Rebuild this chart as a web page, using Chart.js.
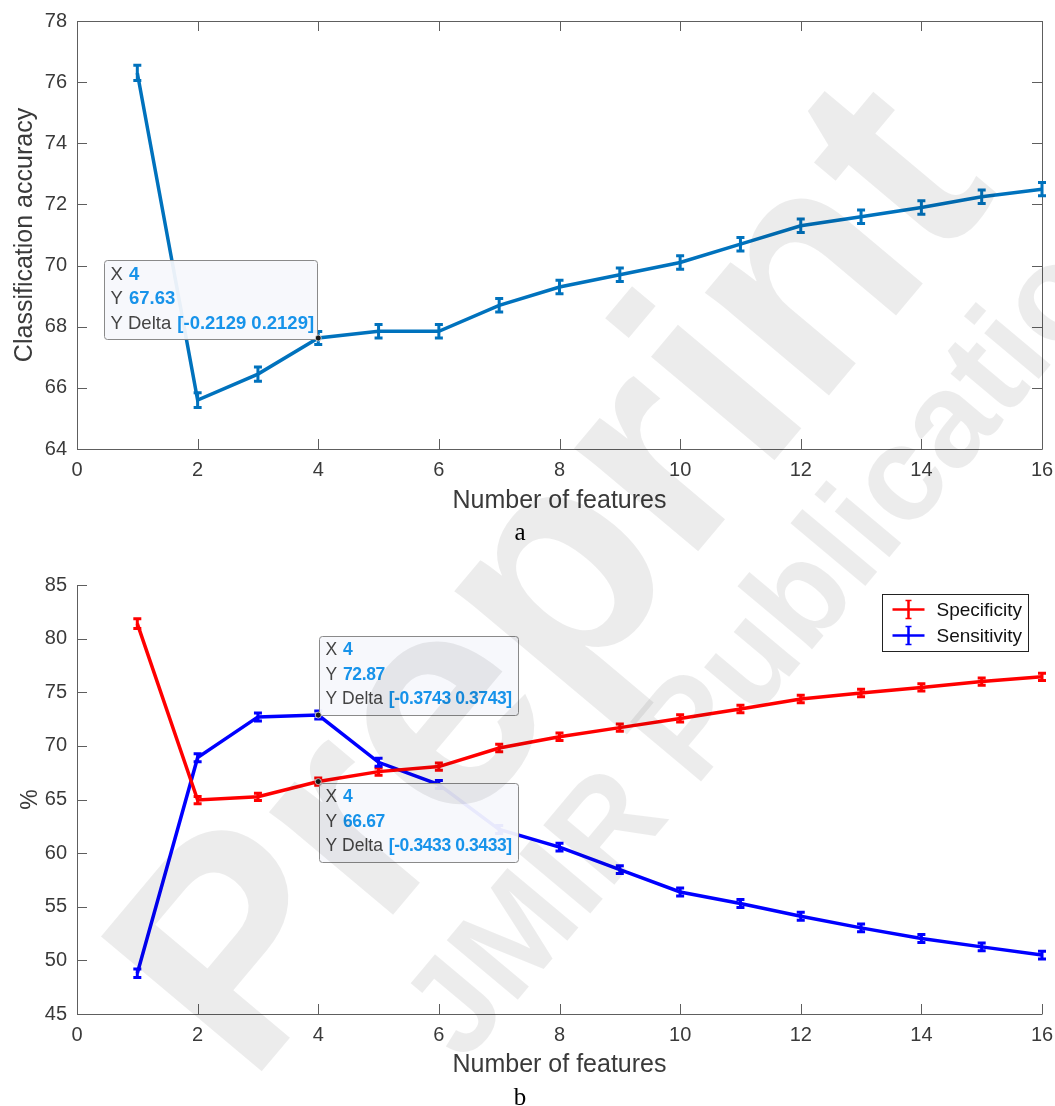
<!DOCTYPE html>
<html>
<head>
<meta charset="utf-8">
<script src="https://cdn.jsdelivr.net/npm/chart.js@4.4.1/dist/chart.umd.min.js"></script>
<style>
  html, body { margin: 0; padding: 0; background: #fff; }
  #page { position: relative; width: 1055px; height: 1106px; overflow: hidden; }
  canvas { position: absolute; left: 0; }
  #graficoA { top: 0; }
  #graficoB { top: 545px; }
  #marca { top: 0; pointer-events: none; }
  .sub { position: absolute; left: 0; width: 1040px; text-align: center;
         font-family: 'Liberation Serif', 'Times New Roman', serif; font-size: 25px; line-height: 25px; color: #000; }
</style>
</head>
<body>
<div id="page">
  <canvas id="graficoA" width="1055" height="525"></canvas>
  <div class="sub" style="top:519px">a</div>
  <canvas id="graficoB" width="1055" height="540"></canvas>
  <div class="sub" style="top:1084px">b</div>
  <canvas id="marca" width="1055" height="1106"></canvas>
</div>
<script>
// --- DATOS ---
const features = [1, 2, 3, 4, 5, 6, 7, 8, 9, 10, 11, 12, 13, 14, 15, 16];

const accuracy    = [76.3, 65.6, 66.45, 67.63, 67.85, 67.85, 68.7, 69.3, 69.7, 70.1, 70.7, 71.3, 71.6, 71.9, 72.25, 72.5];
const accuracyErr = [0.25, 0.24, 0.23, 0.2129, 0.22, 0.22, 0.22, 0.22, 0.22, 0.22, 0.22, 0.22, 0.22, 0.22, 0.22, 0.22];

const specificity    = [81.4, 64.95, 65.25, 66.67, 67.6, 68.07, 69.8, 70.85, 71.7, 72.56, 73.44, 74.37, 74.93, 75.45, 76.0, 76.44];
const specificityErr = [0.45, 0.34, 0.34, 0.3433, 0.34, 0.34, 0.34, 0.34, 0.34, 0.34, 0.34, 0.34, 0.34, 0.34, 0.34, 0.34];
const sensitivity    = [48.8, 68.9, 72.7, 72.87, 68.47, 66.4, 62.2, 60.56, 58.46, 56.38, 55.3, 54.12, 53.03, 52.04, 51.26, 50.49];
const sensitivityErr = [0.4, 0.37, 0.37, 0.3743, 0.37, 0.37, 0.37, 0.37, 0.37, 0.37, 0.37, 0.37, 0.37, 0.37, 0.37, 0.37];

const xTicks = { min: 0, max: 16, step: 2 };
const yTicksA = { min: 64, max: 78, step: 2 };
const yTicksB = { min: 45, max: 85, step: 5 };

const FONT = "'Liberation Sans', Arial, sans-serif";
const AXIS_COLOR = '#5e5e5e';
const LABEL_COLOR = '#3a3a3a';

Chart.defaults.font.family = FONT;
Chart.defaults.color = LABEL_COLOR;

function puntos(ys) {
    return features.map((f, i) => ({ x: f, y: ys[i] }));
}

// --- PLUGIN: ejes estilo MATLAB (marcas hacia dentro) ---
const ejesPlugin = {
    id: 'ejesMatlab',
    beforeDatasetsDraw(chart) {
        const { ctx, chartArea: a, scales: { x, y } } = chart;
        const caja = chart.config.options.caja;
        ctx.save();
        ctx.strokeStyle = AXIS_COLOR;
        ctx.lineWidth = 1;
        ctx.beginPath();
        x.ticks.forEach(t => {
            const px = Math.round(x.getPixelForValue(t.value)) + 0.5;
            ctx.moveTo(px, a.bottom); ctx.lineTo(px, a.bottom - 10);
            if (caja) { ctx.moveTo(px, a.top); ctx.lineTo(px, a.top + 10); }
        });
        y.ticks.forEach(t => {
            const py = Math.round(y.getPixelForValue(t.value)) + 0.5;
            ctx.moveTo(a.left, py); ctx.lineTo(a.left + 10, py);
            if (caja) { ctx.moveTo(a.right, py); ctx.lineTo(a.right - 10, py); }
        });
        const l = Math.round(a.left) + 0.5, r = Math.round(a.right) + 0.5;
        const t = Math.round(a.top) + 0.5, b = Math.round(a.bottom) + 0.5;
        ctx.moveTo(l, t); ctx.lineTo(l, b); ctx.lineTo(r, b);
        if (caja) { ctx.lineTo(r, t); ctx.lineTo(l, t); }
        ctx.stroke();
        ctx.restore();
    }
};

// --- PLUGIN: barras de error ---
const erroresPlugin = {
    id: 'barrasError',
    afterDatasetsDraw(chart) {
        const { ctx, scales: { x, y } } = chart;
        chart.data.datasets.forEach(ds => {
            ctx.save();
            ctx.strokeStyle = ds.borderColor;
            ctx.lineWidth = 3;
            ds.data.forEach((p, j) => {
                const px = x.getPixelForValue(p.x);
                const y1 = y.getPixelForValue(p.y - ds.errores[j]);
                const y2 = y.getPixelForValue(p.y + ds.errores[j]);
                ctx.beginPath();
                ctx.moveTo(px, y1 + 1); ctx.lineTo(px, y2 - 1);
                ctx.moveTo(px - 4, y1); ctx.lineTo(px + 4, y1);
                ctx.moveTo(px - 4, y2); ctx.lineTo(px + 4, y2);
                ctx.stroke();
            });
            ctx.restore();
        });
    }
};

// --- PLUGIN: data tips (cuadros de datos) ---
const tipsPlugin = {
    id: 'dataTips',
    afterDatasetsDraw(chart) {
        const tips = chart.config.options.tips || [];
        const { ctx, scales: { x, y } } = chart;
        tips.forEach(tip => {
            const ds = chart.data.datasets[tip.dataset];
            const p = ds.data[tip.index];
            const err = ds.errores[tip.index];
            const px = x.getPixelForValue(p.x);
            const py = y.getPixelForValue(p.y);
            const filas = [
                ['X', String(p.x)],
                ['Y', p.y.toPrecision(4)],
                ['Y Delta', '[' + (-err).toPrecision(4) + ' ' + err.toPrecision(4) + ']']
            ];
            ctx.save();
            const fLabel = tip.size + 'px ' + FONT;
            const fValor = 'bold ' + tip.size + 'px ' + FONT;
            const esp = tip.espaciado + 'px';
            let ancho = 0;
            filas.forEach(f => {
                ctx.font = fLabel;
                const w1 = ctx.measureText(f[0] + ' ').width;
                ctx.font = fValor;
                ctx.letterSpacing = esp;
                const w2 = ctx.measureText(f[1]).width;
                ctx.letterSpacing = '0px';
                ancho = Math.max(ancho, w1 + w2);
            });
            const w = Math.round(ancho + 6 + tip.padDer), h = 79;
            let bx, by;
            if (tip.lado === 'arribaIzq') { bx = px - w - 1; by = py - h + 1; }
            else if (tip.lado === 'arribaDer') { bx = px + 1; by = py - h; }
            else { bx = px + 1; by = py + 1; }
            bx = Math.round(bx) + 0.5; by = Math.round(by) + 0.5;

            ctx.fillStyle = 'rgba(247, 248, 252, 0.94)';
            ctx.strokeStyle = '#8a8a8a';
            ctx.lineWidth = 1;
            ctx.beginPath();
            ctx.roundRect(bx, by, w, h, 3);
            ctx.fill();
            ctx.stroke();

            ctx.textBaseline = 'middle';
            filas.forEach((f, i) => {
                const ty = by + 14 + i * 24.5;
                ctx.font = fLabel;
                ctx.fillStyle = '#454545';
                ctx.fillText(f[0] + ' ', bx + 6, ty);
                const off = ctx.measureText(f[0] + ' ').width + 1;
                ctx.font = fValor;
                ctx.letterSpacing = esp;
                ctx.fillStyle = '#1793ea';
                ctx.fillText(f[1], bx + 6 + off, ty);
                ctx.letterSpacing = '0px';
            });

            // marcador del punto
            ctx.beginPath();
            ctx.arc(px, py, 3, 0, Math.PI * 2);
            ctx.fillStyle = '#1a1a1a';
            ctx.fill();
            ctx.strokeStyle = 'rgba(255,255,255,0.7)';
            ctx.lineWidth = 1;
            ctx.stroke();
            ctx.restore();
        });
    }
};

// --- PLUGIN: leyenda dentro del gráfico ---
const leyendaPlugin = {
    id: 'leyendaMatlab',
    afterDraw(chart) {
        if (!chart.config.options.leyenda) return;
        const { ctx, chartArea: a } = chart;
        ctx.save();
        ctx.font = '19px ' + FONT;
        const textoW = Math.max(...chart.data.datasets.map(d => ctx.measureText(d.label).width));
        const w = Math.round(textoW + 60), h = 57;
        const bx = Math.round(a.right - 14 - w) + 0.5, by = Math.round(a.top + 9) + 0.5;
        ctx.fillStyle = '#fff';
        ctx.fillRect(bx, by, w, h);
        ctx.strokeStyle = '#222';
        ctx.lineWidth = 1;
        ctx.strokeRect(bx, by, w, h);
        chart.data.datasets.forEach((ds, i) => {
            const ly = by + 15 + i * 26;
            const x0 = bx + 10, x1 = bx + 42, xm = (x0 + x1) / 2;
            ctx.strokeStyle = ds.borderColor;
            ctx.lineWidth = 2.5;
            ctx.beginPath();
            ctx.moveTo(x0, ly); ctx.lineTo(x1, ly);
            ctx.moveTo(xm, ly - 9); ctx.lineTo(xm, ly + 9);
            ctx.stroke();
            ctx.lineWidth = 1.5;
            ctx.beginPath();
            ctx.moveTo(xm - 3, ly - 9); ctx.lineTo(xm + 3, ly - 9);
            ctx.moveTo(xm - 3, ly + 9); ctx.lineTo(xm + 3, ly + 9);
            ctx.stroke();
            ctx.fillStyle = '#111';
            ctx.textBaseline = 'middle';
            ctx.fillText(ds.label, bx + 54, ly + 1);
        });
        ctx.restore();
    }
};

// --- OPCIONES COMUNES ---
function opciones(yRango, yTitulo, yTituloPad, padTop, xAlto, tituloPad) {
    return {
        responsive: false,
        animation: false,
        events: [],
        layout: { padding: { top: padTop, right: 13, left: 0, bottom: 0 } },
        plugins: { legend: { display: false }, tooltip: { enabled: false } },
        elements: { point: { radius: 0 }, line: { borderWidth: 3.5, tension: 0 } },
        scales: {
            x: {
                type: 'linear',
                min: xTicks.min, max: xTicks.max,
                grid: { display: false, drawTicks: false },
                border: { display: false },
                ticks: { stepSize: xTicks.step, padding: 9, font: { size: 20 }, color: LABEL_COLOR },
                title: { display: true, text: 'Number of features', font: { size: 25 }, color: LABEL_COLOR,
                         padding: { top: 0, bottom: tituloPad } },
                afterFit: s => { s.height = xAlto; s.paddingLeft = 0; s.paddingRight = 0; }
            },
            y: {
                min: yRango.min, max: yRango.max,
                grid: { display: false, drawTicks: false },
                border: { display: false },
                ticks: { stepSize: yRango.step, padding: 10, font: { size: 20 }, color: LABEL_COLOR },
                title: { display: true, text: yTitulo.texto, font: { size: yTitulo.size }, color: LABEL_COLOR,
                         padding: { top: yTituloPad, bottom: 0 } },
                afterFit: s => { s.width = 77; s.paddingTop = 0; s.paddingBottom = 0; }
            }
        }
    };
}

document.addEventListener('DOMContentLoaded', function() {
    // --- GRÁFICO a ---
    const opcA = opciones(yTicksA, { texto: 'Classification accuracy', size: 25 }, 10, 21, 76, 9);
    opcA.caja = true;
    opcA.tips = [{ dataset: 0, index: 3, lado: 'arribaIzq', size: 18.5, espaciado: 0, padDer: 4 }];
    new Chart(document.getElementById('graficoA'), {
        type: 'line',
        data: {
            datasets: [{
                label: 'Accuracy',
                data: puntos(accuracy),
                errores: accuracyErr,
                borderColor: '#0072bd'
            }]
        },
        options: opcA,
        plugins: [ejesPlugin, erroresPlugin, tipsPlugin]
    });

    // --- GRÁFICO b ---
    const opcB = opciones(yTicksB, { texto: '%', size: 23 }, 17, 40, 71, 5);
    opcB.caja = false;
    opcB.leyenda = true;
    opcB.tips = [
        { dataset: 1, index: 3, lado: 'arribaDer', size: 17.5, espaciado: -0.4, padDer: 8 },
        { dataset: 0, index: 3, lado: 'abajoDer', size: 17.5, espaciado: -0.4, padDer: 8 }
    ];
    new Chart(document.getElementById('graficoB'), {
        type: 'line',
        data: {
            datasets: [{
                label: 'Specificity',
                data: puntos(specificity),
                errores: specificityErr,
                borderColor: '#ff0000'
            }, {
                label: 'Sensitivity',
                data: puntos(sensitivity),
                errores: sensitivityErr,
                borderColor: '#0000ff'
            }]
        },
        options: opcB,
        plugins: [ejesPlugin, erroresPlugin, tipsPlugin, leyendaPlugin]
    });

    // --- MARCA DE AGUA ---
    const m = document.getElementById('marca').getContext('2d');
    m.fillStyle = 'rgba(0, 0, 0, 0.075)';
    m.textAlign = 'center';
    m.textBaseline = 'middle';
    m.save();
    m.translate(560, 585);
    m.rotate(-50 * Math.PI / 180);
    m.font = 'bold 305px ' + FONT;
    m.fillText('Preprint', 0, 0);
    m.restore();
    m.save();
    m.translate(809, 595);
    m.rotate(-50 * Math.PI / 180);
    m.font = 'bold 135px ' + FONT;
    m.fillText('JMIR Publications', 0, 0);
    m.restore();
});
</script>
</body>
</html>
